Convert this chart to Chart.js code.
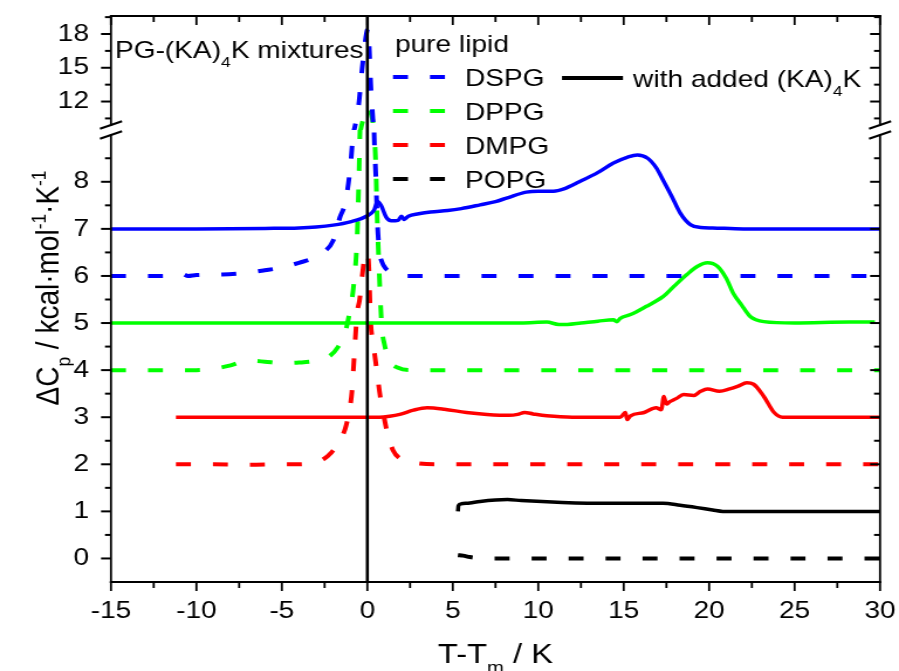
<!DOCTYPE html>
<html>
<head>
<meta charset="utf-8">
<title>PG-(KA)4K mixtures DSC</title>
<script src="https://cdn.jsdelivr.net/npm/chart.js@4.4.1/dist/chart.umd.min.js"></script>
<style>
  html, body { margin: 0; padding: 0; background: #fff; overflow: hidden; }
  /* the original figure is a little wider than tall in its lettering: draw at 768 px and widen to 899 */
  #wrap { width: 768px; height: 671px; transform: scaleX(1.17057); transform-origin: 0 0; }
</style>
</head>
<body>
<div id="wrap"><canvas id="dsc" width="768" height="671"></canvas></div>
<script>
// DSC traces, T - Tm (K) against offset Cp (kcal/mol/K)

const lipids = ['DSPG', 'DPPG', 'DMPG', 'POPG'];

// pure lipid (dashed)
const dspgPureT  = [-15, -12, -10.8, -10.5, -10, -8.5, -7, -6, -5, -4, -3, -2.5, -2, -1.6, -1.3, -1.0, -0.85, -0.5, -0.3, 0.05, 0.12, 0.2, 0.3, 0.4, 0.5, 0.58, 0.7, 0.85, 1.1, 1.5, 2.3, 5, 10, 15, 20, 25, 30];
const dspgPureCp = [6.0, 6.0, 6.04, 6.0, 6.02, 6.03, 6.07, 6.12, 6.18, 6.28, 6.4, 6.52, 6.75, 7.25, 7.55, 8.3, 9.0, 11.8, 15.0, 18.5, 16.5, 13.5, 11.0, 9.0, 8.1, 7.2, 6.55, 6.3, 6.15, 6.06, 6.0, 6.0, 6.0, 6.0, 6.0, 6.0, 6.0];

const dppgPureT  = [-15, -10, -9, -8, -7, -6, -5, -4, -3, -2.2, -1.7, -1.3, -1.0, -0.8, -0.6, -0.5, -0.42, -0.2, 0.0, 0.15, 0.3, 0.42, 0.5, 0.57, 0.65, 0.75, 0.85, 1.0, 1.3, 1.8, 2.5, 5, 10, 20, 30];
const dppgPureCp = [4.0, 4.0, 4.03, 4.1, 4.2, 4.18, 4.15, 4.16, 4.2, 4.3, 4.5, 4.8, 5.3, 5.8, 6.8, 8.0, 9.2, 10.6, 11.5, 11.2, 10.4, 9.0, 8.3, 7.3, 6.5, 5.6, 4.9, 4.55, 4.2, 4.05, 4.0, 4.0, 4.0, 4.0, 4.0];

const dmpgPureT  = [-11.2, -9, -7, -5, -4, -3.2, -2.6, -2.1, -1.7, -1.3, -1.1, -0.9, -0.75, -0.6, -0.45, -0.3, -0.1, 0.05, 0.2, 0.35, 0.55, 0.75, 0.95, 1.2, 1.5, 2.0, 2.8, 4, 10, 20, 30];
const dmpgPureCp = [2.0, 2.0, 1.99, 2.0, 2.0, 2.03, 2.1, 2.25, 2.45, 2.75, 3.05, 3.55, 4.4, 5.2, 5.5, 6.0, 6.5, 6.4, 5.0, 4.55, 4.0, 3.45, 3.05, 2.62, 2.3, 2.1, 2.03, 2.0, 2.0, 2.0, 2.0];

const popgPureT  = [5.3, 5.6, 6.0, 7, 10, 15, 20, 25, 30];
const popgPureCp = [0.07, 0.06, 0.03, 0.0, 0.0, 0.0, 0.0, 0.0, 0.0];

// with added (KA)4K (solid)
const dspgKaT  = [-15, -10, -6, -4, -3, -2, -1, 0, 0.4, 0.6, 0.8, 1.1, 1.4, 1.8, 2.0, 2.15, 2.4, 3, 3.7, 4.7, 5.5, 6.6, 7.5, 8.2, 9.3, 10, 10.9, 11.5, 12.4, 13.5, 14.4, 15.2, 15.8, 16.4, 16.9, 17.3, 17.8, 18.3, 18.9, 19.5, 20.2, 22, 25, 30];
const dspgKaCp = [7.0, 7.0, 7.01, 7.02, 7.04, 7.08, 7.15, 7.28, 7.4, 7.58, 7.5, 7.25, 7.17, 7.18, 7.27, 7.2, 7.27, 7.32, 7.36, 7.39, 7.43, 7.51, 7.58, 7.66, 7.78, 7.8, 7.8, 7.85, 8.0, 8.2, 8.4, 8.52, 8.57, 8.5, 8.3, 8.04, 7.7, 7.34, 7.09, 7.03, 7.02, 7.0, 7.0, 7.0];

const dppgKaT  = [-15, -5, 0, 5, 9, 10.5, 11.2, 11.7, 12.5, 13.5, 14.4, 14.6, 14.8, 15.4, 16.3, 17.3, 18.0, 18.7, 19.3, 19.9, 20.5, 21.0, 21.4, 21.9, 22.4, 23.2, 25, 28.2, 29.7];
const dppgKaCp = [5.0, 5.0, 5.0, 5.0, 5.0, 5.02, 4.97, 4.97, 5.0, 5.04, 5.07, 5.03, 5.1, 5.18, 5.35, 5.56, 5.8, 6.03, 6.2, 6.28, 6.2, 5.95, 5.64, 5.38, 5.14, 5.03, 5.0, 5.02, 5.02];

const dmpgKaT  = [-11.2, -5, 0, 0.7, 1.3, 1.9, 2.7, 3.5, 4.5, 5.8, 7, 8.3, 8.8, 9.2, 9.7, 10.5, 12, 14.8, 15.1, 15.2, 15.4, 16.2, 16.9, 17.2, 17.35, 17.5, 17.7, 18.1, 18.5, 19.1, 19.5, 19.9, 20.6, 21.2, 21.7, 22.2, 22.6, 23.2, 23.8, 24.3, 25, 30];
const dmpgKaCp = [3.0, 3.0, 3.0, 3.0, 3.02, 3.06, 3.15, 3.2, 3.17, 3.1, 3.06, 3.04, 3.06, 3.1, 3.07, 3.03, 3.0, 3.0, 3.1, 2.95, 3.03, 3.1, 3.2, 3.16, 3.44, 3.28, 3.33, 3.4, 3.48, 3.46, 3.55, 3.6, 3.55, 3.6, 3.66, 3.73, 3.7, 3.44, 3.1, 3.0, 3.0, 3.0];

const popgKaT  = [5.3, 5.33, 5.5, 6, 6.6, 7.5, 8.2, 9, 11.4, 14, 17.3, 18.3, 19.3, 20.2, 20.8, 22, 25, 30];
const popgKaCp = [1.0, 1.12, 1.16, 1.18, 1.21, 1.24, 1.25, 1.23, 1.19, 1.17, 1.17, 1.13, 1.08, 1.03, 1.0, 1.0, 1.0, 1.0];

// tick labels
const tempTicks   = [-15, -10, -5, 0, 5, 10, 15, 20, 25, 30];
const cpTicksLow  = [0, 1, 2, 3, 4, 5, 6, 7, 8];
const cpTicksHigh = [12, 15, 18];

const colors = { DSPG: '#0000ff', DPPG: '#00ff00', DMPG: '#ff0000', POPG: '#000000' };
const FONT = '"Liberation Sans", Arial, sans-serif';
const DASH = [12.8, 18.8];

const pure = { DSPG: [dspgPureT, dspgPureCp], DPPG: [dppgPureT, dppgPureCp], DMPG: [dmpgPureT, dmpgPureCp], POPG: [popgPureT, popgPureCp] };
const withKa = { DSPG: [dspgKaT, dspgKaCp], DPPG: [dppgKaT, dppgKaCp], DMPG: [dmpgKaT, dmpgKaCp], POPG: [popgKaT, popgKaCp] };

function points(t, cp) {
    return t.map((x, i) => ({ x: x, y: cp[i] }));
}

// every trace goes on both halves of the broken axis, each half clips its own part
const datasets = [];
lipids.forEach(name => {
    [['pure', pure[name], DASH, 4], ['ka', withKa[name], [], 3.5]].forEach(([kind, tc, dash, w]) => {
        ['y', 'y2'].forEach(axis => {
            datasets.push({
                label: name + ' ' + kind,
                data: points(tc[0], tc[1]),
                yAxisID: axis,
                borderColor: colors[name],
                borderWidth: w,
                borderDash: dash,
                pointRadius: 0,
                fill: false,
                cubicInterpolationMode: 'monotone'
            });
        });
    });
});

function line(ctx, x1, y1, x2, y2) {
    ctx.beginPath();
    ctx.moveTo(x1, y1);
    ctx.lineTo(x2, y2);
    ctx.stroke();
}

// text with sub/superscript pieces: [[text, ''|'sub'|'sup'], ...]
function richWidth(ctx, parts, size) {
    let w = 0;
    parts.forEach(([t, mode]) => {
        ctx.font = (mode ? size * 0.62 : size) + 'px ' + FONT;
        w += ctx.measureText(t).width;
    });
    return w;
}
function richText(ctx, parts, x, y, size) {
    let cx = x;
    parts.forEach(([t, mode]) => {
        ctx.font = (mode ? size * 0.62 : size) + 'px ' + FONT;
        const dy = mode === 'sub' ? size * 0.36 : (mode === 'sup' ? -size * 0.36 : 0);
        ctx.fillText(t, cx, y + dy);
        cx += ctx.measureText(t).width;
    });
}

const decorPlugin = {
    id: 'decor',
    afterDraw(chart) {
        const { ctx, chartArea: a, scales } = chart;
        const xs = scales.x, lo = scales.y, hi = scales.y2;
        const brk = lo.top;
        ctx.save();
        ctx.strokeStyle = '#000';
        ctx.fillStyle = '#000';

        // T = Tm line
        ctx.lineWidth = 2.6;
        const x0 = xs.getPixelForValue(0);
        line(ctx, x0, a.top, x0, a.bottom);

        // frame with break gap on both sides
        ctx.lineWidth = 2;
        ctx.lineCap = 'square';
        line(ctx, a.left, a.top, a.right, a.top);
        line(ctx, a.left, a.bottom, a.right, a.bottom);
        ctx.lineWidth = 1.8;
        [a.left, a.right].forEach(x => {
            line(ctx, x, a.top, x, brk - 5);
            line(ctx, x, brk + 5, x, a.bottom);
        });
        ctx.lineCap = 'butt';
        ctx.lineWidth = 2;
        [a.left, a.right].forEach(x => {
            [brk - 5, brk + 5].forEach(c => line(ctx, x - 9.4, c + 3.8, x + 9.4, c - 3.8));
        });

        // x ticks: outward at bottom, inward at top
        ctx.lineWidth = 1.8;
        for (let v = xs.min; v <= xs.max + 1e-6; v += 2.5) {
            const px = xs.getPixelForValue(v);
            const len = tempTicks.includes(v) ? 9 : 6;
            line(ctx, px, a.bottom, px, a.bottom + len);
            line(ctx, px, a.top, px, a.top + len);
        }
        // y ticks: outward on left, inward on right
        ctx.lineWidth = 2;
        const yTick = (scale, v, major) => {
            const py = scale.getPixelForValue(v);
            const len = major ? 8.5 : 5.1;
            line(ctx, a.left - len, py, a.left, py);
            line(ctx, a.right - len, py, a.right, py);
        };
        for (let v = 0; v <= 8.5; v += 0.5) yTick(lo, v, cpTicksLow.includes(v));
        for (let v = 10.5; v <= hi.max; v += 1.5) yTick(hi, v, cpTicksHigh.includes(v));

        // axis titles
        ctx.textBaseline = 'alphabetic';
        const xt = [['T-T', ''], ['m', 'sub'], [' / K', '']];
        richText(ctx, xt, (a.left + a.right) / 2 - richWidth(ctx, xt, 28) / 2, 663, 28);
        const yt = [['\u0394C', ''], ['p', 'sub'], [' / kcal\u00b7mol', ''], ['-1', 'sup'], ['\u00b7K', ''], ['-1', 'sup']];
        ctx.save();
        ctx.translate(49.5, 288);
        ctx.rotate(-Math.PI / 2);
        richText(ctx, yt, -richWidth(ctx, yt, 28) / 2, 0, 28);
        ctx.restore();

        // annotation and legend
        richText(ctx, [['PG-(KA)', ''], ['4', 'sub'], ['K mixtures', '']], 98.2, 58, 24);
        richText(ctx, [['pure lipid', '']], 337.4, 52, 24);
        const rowY = [77, 111, 145, 179];
        lipids.forEach((name, i) => {
            ctx.strokeStyle = colors[name];
            ctx.lineWidth = 4;
            ctx.setLineDash(DASH);
            line(ctx, 335.7, rowY[i], 382, rowY[i]);
            ctx.setLineDash([]);
            richText(ctx, [[name, '']], 397.2, rowY[i] + 9, 24);
        });
        ctx.strokeStyle = '#000';
        ctx.lineWidth = 4;
        line(ctx, 480.1, 78, 532.2, 78);
        richText(ctx, [['with added (KA)', ''], ['4', 'sub'], ['K', '']], 540.8, 87, 24);
        ctx.restore();
    }
};

// drop the label overhang Chart.js reserves, the frame sits on fixed margins
function noOverhang(s) {
    s.paddingLeft = 0;
    s.paddingRight = 0;
    s.paddingTop = 0;
    s.paddingBottom = 0;
}

new Chart(document.getElementById('dsc'), {
    type: 'line',
    data: { datasets: datasets },
    options: {
        responsive: false,
        animation: false,
        devicePixelRatio: 1,
        layout: { padding: { top: 16, right: 16.2, left: 0, bottom: 0 } },
        plugins: { legend: { display: false }, tooltip: { enabled: false } },
        scales: {
            x: {
                type: 'linear',
                min: -15,
                max: 30,
                afterBuildTicks: s => { s.ticks = tempTicks.map(v => ({ value: v })); },
                afterFit: s => { s.height = 89; noOverhang(s); },
                grid: { display: false, tickLength: 8 },
                border: { display: false },
                ticks: { color: '#000', padding: 7, autoSkip: false, maxRotation: 0, font: { family: FONT, size: 24 } }
            },
            y: {
                type: 'linear',
                position: 'left',
                stack: 'cp',
                stackWeight: 452,
                min: -0.5,
                max: 9.1,
                afterBuildTicks: s => { s.ticks = cpTicksLow.map(v => ({ value: v })); },
                afterFit: s => { s.width = 94.8; noOverhang(s); },
                grid: { display: false, tickLength: 8 },
                border: { display: false },
                ticks: { color: '#000', padding: 10.8, autoSkip: false, font: { family: FONT, size: 24 } }
            },
            y2: {
                type: 'linear',
                position: 'left',
                stack: 'cp',
                stackWeight: 114,
                min: 9.47,
                max: 19.6,
                afterBuildTicks: s => { s.ticks = cpTicksHigh.map(v => ({ value: v })); },
                afterFit: s => { s.width = 94.8; noOverhang(s); },
                grid: { display: false, tickLength: 8 },
                border: { display: false },
                ticks: { color: '#000', padding: 10.8, autoSkip: false, font: { family: FONT, size: 24 } }
            }
        }
    },
    plugins: [decorPlugin]
});
</script>
</body>
</html>
